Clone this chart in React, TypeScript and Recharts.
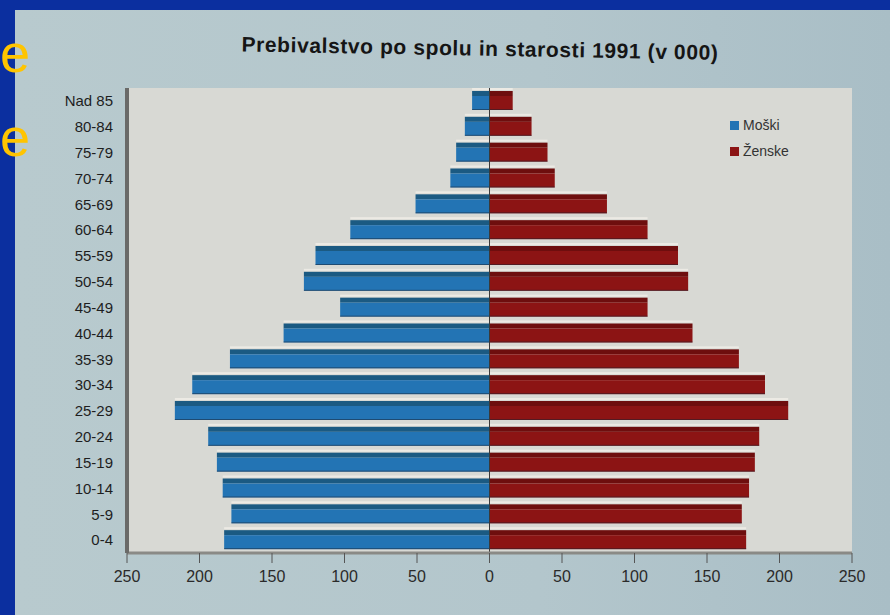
import { Bar, BarChart, CartesianGrid, Legend, ReferenceLine, XAxis, YAxis } from "recharts";

// age groups, youngest first (axis is reversed so 0-4 sits at the bottom)
const ageGroups = [
  "0-4", "5-9", "10-14", "15-19", "20-24", "25-29", "30-34", "35-39", "40-44",
  "45-49", "50-54", "55-59", "60-64", "65-69", "70-74", "75-79", "80-84", "Nad 85",
];
const moski = [183, 178, 184, 188, 194, 217, 205, 179, 142, 103, 128, 120, 96, 51, 27, 23, 17, 12];
const zenske = [177, 174, 179, 183, 186, 206, 190, 172, 140, 109, 137, 130, 109, 81, 45, 40, 29, 16];
const xTicks = [-250, -200, -150, -100, -50, 0, 50, 100, 150, 200, 250];

const data = ageGroups.map((age, i) => ({ age, moski: -moski[i], zenske: zenske[i] }));

const BLUE = "#2374b4";
const RED = "#8c1414";

function Bar3D(props: any) {
  const { x, y, width, height, fill, topFill } = props;
  const x0 = Math.min(x, x + width);
  const w = Math.abs(width);
  if (!w) return null;
  const band = 5;
  return (
    <g>
      <rect x={x0} y={y - 3} width={w} height={2} fill="#eceae4" />
      <rect x={x0} y={y} width={w} height={band} fill={topFill} />
      <rect x={x0} y={y + band} width={w} height={height - band} fill={fill} />
      <rect x={x0} y={y + height - 1} width={w} height={1} fill="#1a2230" opacity={0.5} />
    </g>
  );
}

export default function App() {
  return (
    <div
      style={{
        position: "absolute",
        left: 0,
        top: 0,
        width: 890,
        height: 615,
        overflow: "hidden",
        background: "#0b2f9f",
        fontFamily: "'Liberation Sans', Arial, sans-serif",
      }}
    >
      <div
        style={{
          position: "absolute",
          left: 15,
          top: 10,
          width: 875,
          height: 605,
          background: "linear-gradient(90deg, #b8cace 0%, #b3c6cc 60%, #a9bec6 100%)",
        }}
      />
      <div
        style={{
          position: "absolute",
          left: 0,
          top: 36,
          width: 890,
          textAlign: "center",
          paddingLeft: 70,
          boxSizing: "border-box",
          fontSize: 21,
          letterSpacing: 0.6,
          fontWeight: "bold",
          color: "#151515",
          transform: "rotate(1deg)",
        }}
      >
        Prebivalstvo po spolu in starosti 1991 (v 000)
      </div>
      <div style={{ position: "absolute", left: 0, top: 0 }}>
        <BarChart
          width={890}
          height={615}
          data={data}
          layout="vertical"
          stackOffset="sign"
          barSize={19}
          margin={{ top: 88, right: 38, bottom: 18, left: 12 }}
        >
          <CartesianGrid horizontal={false} vertical={false} fill="#d8d9d4" stroke="none" />
          <XAxis
            type="number"
            domain={[-250, 250]}
            ticks={xTicks}
            tickFormatter={(v) => String(Math.abs(v))}
            tick={{ fontSize: 16, fill: "#2a2a2a" }}
            axisLine={{ stroke: "#8a8a86", strokeWidth: 3 }}
            tickLine={{ stroke: "#555" }}
            tickSize={10}
            tickMargin={8}
            height={44}
          />
          <YAxis
            type="category"
            dataKey="age"
            reversed
            width={115}
            interval={0}
            tick={{ fontSize: 15, fill: "#1e1e1e", fontFamily: "'Liberation Sans Narrow', 'Liberation Sans', sans-serif" }}
            axisLine={{ stroke: "#6a6a68", strokeWidth: 4 }}
            tickLine={false}
            tickMargin={8}
          />
          <ReferenceLine x={0} stroke="#3a3a3a" strokeWidth={1} />
          <Legend
            layout="vertical"
            align="center"
            verticalAlign="middle"
            iconType="square"
            iconSize={9}
            formatter={(value) => <span style={{ color: "#333", fontSize: 14 }}>{value}</span>}
            wrapperStyle={{ top: 112, left: 730, right: "auto", bottom: "auto", width: 100, lineHeight: "26px" }}
          />
          <Bar
            dataKey="moski"
            name="Moški"
            stackId="a"
            fill={BLUE}
            isAnimationActive={false}
            shape={(p: any) => <Bar3D {...p} fill={BLUE} topFill="#1b5a82" />}
          />
          <Bar
            dataKey="zenske"
            name="Ženske"
            stackId="a"
            fill={RED}
            isAnimationActive={false}
            shape={(p: any) => <Bar3D {...p} fill={RED} topFill="#6e0e0e" />}
          />
        </BarChart>
      </div>
      <div style={{ position: "absolute", left: 0, top: 26, fontSize: 54, color: "#ffc400", lineHeight: 1 }}>e</div>
      <div style={{ position: "absolute", left: 0, top: 110, fontSize: 54, color: "#ffc400", lineHeight: 1 }}>e</div>
    </div>
  );
}
